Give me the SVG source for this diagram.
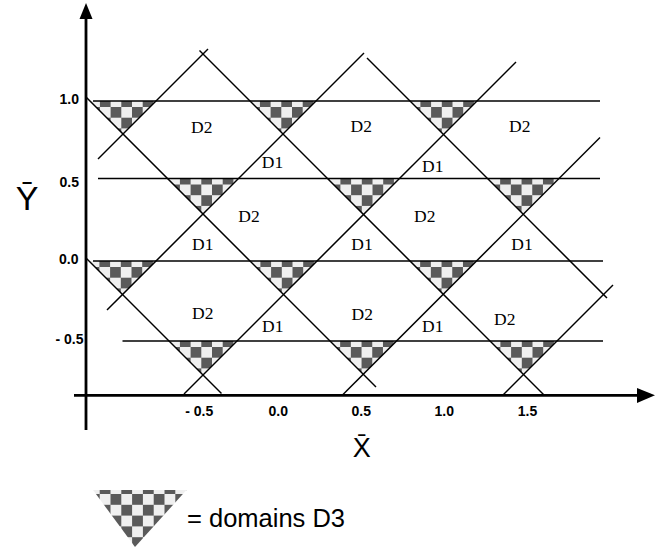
<svg xmlns="http://www.w3.org/2000/svg" width="669" height="550" viewBox="0 0 669 550">
<style>
.ax{stroke:#000;stroke-width:2.8;fill:none}
.hl{stroke:#000;stroke-width:1.4;fill:none}
.dl{stroke:#000;stroke-width:1.5;fill:none;stroke-linecap:butt}
.d3{fill:url(#chk);stroke:none}
.dom{font-family:"Liberation Serif","Times New Roman",serif;font-size:17.5px;text-anchor:middle;fill:#000}
.tk{font-family:"Liberation Sans",Arial,sans-serif;font-size:14px;font-weight:bold;fill:#000}
.big{font-family:"Liberation Sans",Arial,sans-serif;text-anchor:middle;fill:#000}
</style>
<defs>
<pattern id="chk" patternUnits="userSpaceOnUse" x="-1.7" y="-4.7" width="21.4" height="21.4">
<rect width="21.4" height="21.4" fill="#efefef"/>
<rect width="10.7" height="10.7" fill="#5a5a5a"/>
<rect x="10.7" y="10.7" width="10.7" height="10.7" fill="#5a5a5a"/>
</pattern>
<pattern id="chkL" patternUnits="userSpaceOnUse" x="99.7" y="483.2" width="21.6" height="21.6">
<rect width="21.6" height="21.6" fill="#efefef"/>
<rect width="10.8" height="10.8" fill="#5a5a5a"/>
<rect x="10.8" y="10.8" width="10.8" height="10.8" fill="#5a5a5a"/>
</pattern>
</defs>
<rect width="669" height="550" fill="#fff"/>

<g id="domains-d3">
<polygon class="d3" transform="translate(123,101)" points="-33,0 33,0 0,33"/>
<polygon class="d3" transform="translate(283,101)" points="-33,0 33,0 0,33"/>
<polygon class="d3" transform="translate(443.5,101)" points="-33.5,0 33.5,0 0,33.5"/>
<polygon class="d3" transform="translate(203,178.5)" points="-35.5,0 35.5,0 0,35.5"/>
<polygon class="d3" transform="translate(363.5,178.5)" points="-36,0 36,0 0,36"/>
<polygon class="d3" transform="translate(523.25,178.5)" points="-35.75,0 35.75,0 0,35.75"/>
<polygon class="d3" transform="translate(122.5,261)" points="-33.5,0 33.5,0 0,33.5"/>
<polygon class="d3" transform="translate(283.5,261)" points="-33.5,0 33.5,0 0,33.5"/>
<polygon class="d3" transform="translate(443.25,261)" points="-33.25,0 33.25,0 0,33.25"/>
<polygon class="d3" transform="translate(203,341)" points="-34,0 34,0 0,34"/>
<polygon class="d3" transform="translate(363.25,341)" points="-33.25,0 33.25,0 0,33.25"/>
<polygon class="d3" transform="translate(523.5,341)" points="-33.5,0 33.5,0 0,33.5"/>
</g>

<g id="connectors">
<line class="hl" x1="93" y1="101" x2="600" y2="101"/>
<line class="hl" x1="98" y1="178.5" x2="600" y2="178.5"/>
<line class="hl" x1="93" y1="261" x2="603" y2="261"/>
<line class="hl" x1="122.5" y1="341" x2="603" y2="341"/>
<line class="dl" x1="86.5" y1="97.5" x2="376" y2="387"/>
<line class="dl" x1="199.5" y1="50.5" x2="544" y2="395"/>
<line class="dl" x1="367" y1="58" x2="607" y2="298"/>
<line class="dl" x1="86.5" y1="258.5" x2="221.5" y2="393.5"/>
<line class="dl" x1="98" y1="159" x2="208" y2="49"/>
<line class="dl" x1="107" y1="310" x2="364" y2="53"/>
<line class="dl" x1="184" y1="394" x2="516" y2="62"/>
<line class="dl" x1="343" y1="394.5" x2="600" y2="137.5"/>
<line class="dl" x1="503" y1="395" x2="613" y2="285"/>
</g>

<g id="axes">
<line class="ax" x1="86" y1="17" x2="86" y2="430"/>
<polygon points="86,3 79.5,19 92.5,19" fill="#000"/>
<line class="ax" x1="74" y1="395.3" x2="639" y2="395.3"/>
<polygon points="655,395.3 637,388 637,403" fill="#000"/>
<text class="big" x="27" y="209.5" font-size="34">Ȳ</text>
<text class="big" x="361.7" y="457" font-size="27">X̄</text>
</g>

<g id="ticks">
<text class="tk" x="79" y="104" text-anchor="end">1.0</text>
<text class="tk" x="79" y="186.5" text-anchor="end">0.5</text>
<text class="tk" x="78.5" y="264" text-anchor="end">0.0</text>
<text class="tk" x="83.5" y="344" text-anchor="end">- 0.5</text>
<text class="tk" x="199.2" y="415.5" text-anchor="middle">- 0.5</text>
<text class="tk" x="278.3" y="415.5" text-anchor="middle">0.0</text>
<text class="tk" x="361.2" y="415.5" text-anchor="middle">0.5</text>
<text class="tk" x="444.2" y="415.5" text-anchor="middle">1.0</text>
<text class="tk" x="527.5" y="415.5" text-anchor="middle">1.5</text>
</g>

<g id="domain-labels">
<text class="dom" x="201.7" y="132.7">D2</text>
<text class="dom" x="361.3" y="131.7">D2</text>
<text class="dom" x="519.7" y="131.7">D2</text>
<text class="dom" x="272.5" y="168">D1</text>
<text class="dom" x="432.7" y="171.7">D1</text>
<text class="dom" x="249" y="221.7">D2</text>
<text class="dom" x="424.7" y="221.7">D2</text>
<text class="dom" x="202.7" y="250">D1</text>
<text class="dom" x="362" y="250">D1</text>
<text class="dom" x="522" y="250">D1</text>
<text class="dom" x="202.7" y="319.3">D2</text>
<text class="dom" x="362.3" y="320">D2</text>
<text class="dom" x="504.7" y="325">D2</text>
<text class="dom" x="272.7" y="331.7">D1</text>
<text class="dom" x="432.7" y="331.7">D1</text>
</g>

<g id="legend">
<polygon points="93,490 186.5,490 135,547" fill="url(#chkL)"/>
<text x="187" y="527" font-family="'Liberation Sans',Arial,sans-serif" font-size="25.5" fill="#000">= domains D3</text>
</g>
</svg>
